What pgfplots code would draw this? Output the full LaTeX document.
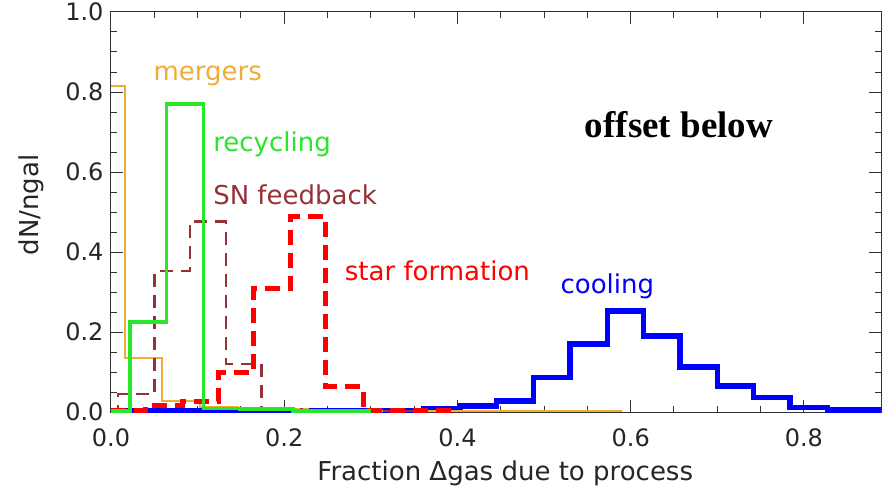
\documentclass[border=0pt]{standalone}
\usepackage{fontspec}
\setmainfont{DejaVu Sans}
\newfontfamily\timesfont{Liberation Serif}
\usepackage{pgfplots}
\pgfplotsset{compat=1.18}
\definecolor{cmerg}{RGB}{240,172,52}
\definecolor{crec}{RGB}{40,230,40}
\definecolor{csn}{RGB}{150,50,55}
\definecolor{csf}{RGB}{255,0,0}
\definecolor{ccool}{RGB}{0,0,255}
\begin{document}
\begin{tikzpicture}
\useasboundingbox (-111pt,-79pt) rectangle (771pt,412pt);
\begin{axis}[
  at={(0,0)}, anchor=south west,
  scale only axis, width=770pt, height=400pt,
  xmin=0, xmax=0.889, ymin=0, ymax=1,
  xtick={0,0.2,0.4,0.6,0.8}, ytick={0,0.2,0.4,0.6,0.8,1.0},
  minor x tick num=3, minor y tick num=3,
  tick align=inside, major tick length=12pt, minor tick length=6pt,
  xticklabel style={/pgf/number format/fixed, /pgf/number format/fixed zerofill, /pgf/number format/precision=1, yshift=-13pt},
  yticklabel style={/pgf/number format/fixed, /pgf/number format/fixed zerofill, /pgf/number format/precision=1, xshift=-4pt},
  /pgf/number format/assume math mode=true,
  axis line style={black!80, line width=1pt},
  every tick/.style={black!80, line width=1pt},
  ticklabel style={font=\fontsize{24}{28}\selectfont, text=black!85},
  xlabel={Fraction Δgas due to process},
  ylabel={dN/ngal},
  label style={font=\fontsize{26}{30}\selectfont, text=black!85},
  xlabel style={at={(axis description cs:0.512,0)}, anchor=base, yshift=-68pt},
  ylabel style={at={(axis description cs:-0.104,0.5175)}, anchor=center},
]
% cooling
\addplot[const plot, ccool, line width=5.5pt] coordinates {
(0,0.004) (0.361,0.009) (0.403,0.015) (0.445,0.028) (0.488,0.086) (0.530,0.170) (0.573,0.2525) (0.615,0.190) (0.657,0.113) (0.700,0.065) (0.742,0.036) (0.784,0.011) (0.827,0.005) (0.889,0.005)};
% mergers
\addplot[const plot, cmerg, line width=2pt] coordinates {
(0,0.815) (0.016,0.136) (0.059,0.028) (0.103,0.013) (0.147,0.007) (0.227,0.002) (0.59,0.002)};
% SN feedback
\addplot[const plot, csn, line width=2.5pt, dash pattern=on 13pt off 8pt] coordinates {
(0,0.002) (0.008,0.045) (0.050,0.353) (0.091,0.476) (0.133,0.120) (0.174,0.006) (0.220,0.003) (0.36,0.003)};
% star formation
\addplot[const plot, csf, line width=5pt, dash pattern=on 15pt off 8pt] coordinates {
(0,0.003) (0.040,0.016) (0.082,0.026) (0.124,0.098) (0.164,0.309) (0.207,0.488) (0.248,0.063) (0.291,0.003) (0.40,0.003)};
% recycling
\addplot[const plot, crec, line width=3.5pt] coordinates {
(0,0.003) (0.022,0.225) (0.064,0.770) (0.107,0.009) (0.149,0.007) (0.210,0.002) (0.30,0.002)};
\node[anchor=base west, text=cmerg, font=\fontsize{26}{30}\selectfont] at (axis cs:0.045,0.83) {mergers};
\node[anchor=base west, text=crec, font=\fontsize{26}{30}\selectfont] at (axis cs:0.114,0.6525) {recycling};
\node[anchor=base west, text=csn, font=\fontsize{26}{30}\selectfont] at (axis cs:0.114,0.52) {SN feedback};
\node[anchor=base west, text=csf, font=\fontsize{26}{30}\selectfont] at (axis cs:0.266,0.33) {star formation};
\node[anchor=base west, text=ccool, font=\fontsize{26}{30}\selectfont] at (axis cs:0.515,0.2975) {cooling};
\node[anchor=base west, inner sep=0pt, font=\fontsize{37}{40}\timesfont\bfseries] at (axis cs:0.547,0.6875) {offset below};
\end{axis}
\end{tikzpicture}
\end{document}
